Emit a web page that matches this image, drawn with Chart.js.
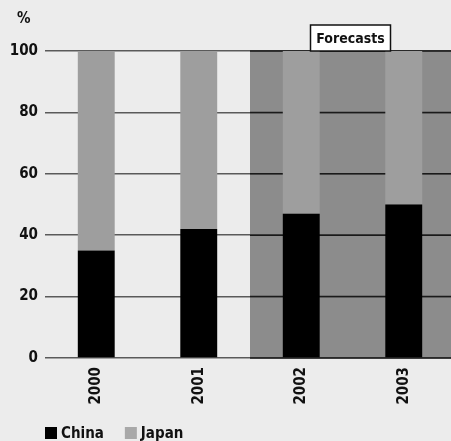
<!DOCTYPE html>
<html><head><meta charset="utf-8">
<script src="https://cdn.jsdelivr.net/npm/chart.js@4"></script>
<style>
html,body{margin:0;padding:0;overflow:hidden;background:#ececec;}
#wrap{width:455px;height:441px;position:relative;}
</style></head><body>
<div id="wrap"><canvas id="c"></canvas></div>
<script>
const categories = ['2000', '2001', '2002', '2003'];
const china = [35, 42, 47, 50];
const japan = [65, 58, 53, 50];
const yTickStep = 20;
const yMax = 100;
const forecastStartIndex = 2;
const forecastLabel = 'Forecasts';
const unitLabel = '%';
const FONT = "'DejaVu Sans Condensed','Liberation Sans Narrow',sans-serif";

const forecastPlugin = {
  id: 'forecast',
  beforeDraw(chart) {
    const {ctx, chartArea, scales: {x, y}} = chart;
    const x0 = (x.getPixelForValue(forecastStartIndex - 1) + x.getPixelForValue(forecastStartIndex)) / 2;
    const yt = y.getPixelForValue(yMax), yb = y.getPixelForValue(0);
    ctx.save();
    ctx.fillStyle = '#8c8c8c';
    ctx.fillRect(x0, yt, chartArea.right - x0, yb - yt);
    ctx.restore();
  },
  beforeDatasetsDraw(chart) {
    const {ctx, chartArea, scales: {x, y}} = chart;
    const x0 = (x.getPixelForValue(forecastStartIndex - 1) + x.getPixelForValue(forecastStartIndex)) / 2;
    ctx.save();
    ctx.strokeStyle = '#1a1a1a';
    ctx.lineWidth = 1.5;
    y.ticks.forEach(t => {
      const py = y.getPixelForValue(t.value);
      ctx.beginPath(); ctx.moveTo(x0, py); ctx.lineTo(chartArea.right, py); ctx.stroke();
    });
    ctx.restore();
  },
  afterDraw(chart) {
    const {ctx, chartArea, scales: {x, y}} = chart;
    const x0 = (x.getPixelForValue(forecastStartIndex - 1) + x.getPixelForValue(forecastStartIndex)) / 2;
    const cx = (x0 + chartArea.right) / 2 - 2;
    const yt = y.getPixelForValue(yMax);
    ctx.save();
    ctx.font = 'bold 14px ' + FONT;
    const w = 80;
    const h = 26;
    ctx.fillStyle = '#ffffff';
    ctx.fillRect(cx - w / 2, yt - h, w, h);
    ctx.strokeStyle = '#111';
    ctx.lineWidth = 1.5;
    ctx.strokeRect(cx - w / 2, yt - h, w, h);
    ctx.fillStyle = '#111';
    ctx.textAlign = 'center';
    ctx.textBaseline = 'middle';
    ctx.fillText(forecastLabel, cx, yt - h / 2 + 1);
    // unit label
    ctx.font = 'bold 15px ' + FONT;
    ctx.textAlign = 'left';
    ctx.fillText(unitLabel, 17, 19);
    // legend
    ctx.font = 'bold 15px ' + FONT;
    let lx = chartArea.left;
    const ly = 433;
    chart.data.datasets.forEach(ds => {
      ctx.fillStyle = ds.legendColor || ds.backgroundColor;
      ctx.fillRect(lx, ly - 6, 12, 12);
      ctx.fillStyle = '#111';
      ctx.textBaseline = 'middle';
      ctx.fillText(ds.label, lx + 16, ly + 1);
      lx += 16 + ctx.measureText(ds.label).width + 21;
    });
    ctx.restore();
  }
};

new Chart(document.getElementById('c'), {
  type: 'bar',
  data: {
    labels: categories,
    datasets: [
      {label: 'China', data: china, backgroundColor: '#000000', barPercentage: 0.36, categoryPercentage: 1},
      {label: 'Japan', data: japan, backgroundColor: '#9e9e9e', legendColor: '#a8a8a8', barPercentage: 0.36, categoryPercentage: 1}
    ]
  },
  options: {
    responsive: true,
    maintainAspectRatio: false,
    animation: false,
    layout: {padding: {top: 51, bottom: 33, left: 0, right: 0}},
    plugins: {legend: {display: false}, tooltip: {enabled: false}},
    scales: {
      x: {
        stacked: true,
        grid: {display: false},
        border: {display: false},
        ticks: {minRotation: 90, maxRotation: 90, padding: 1, color: '#111', font: {family: FONT, size: 15, weight: 'bold'}},
        afterFit(s) { s.height = 50; }
      },
      y: {
        stacked: true,
        min: 0, max: yMax,
        border: {display: false},
        grid: {color: '#5a5a5a', lineWidth: 1.5, drawTicks: false},
        ticks: {stepSize: yTickStep, padding: 7, color: '#111', font: {family: FONT, size: 15, weight: 'bold'}},
        afterFit(s) { s.width = 45; }
      }
    }
  },
  plugins: [forecastPlugin]
});
</script>
</body></html>
